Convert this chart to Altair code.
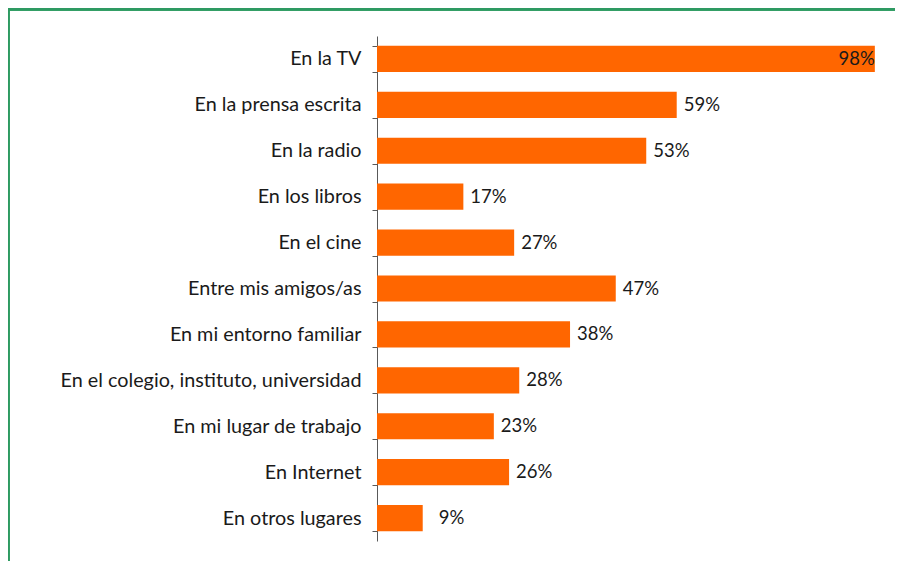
import altair as alt
import pandas as pd

categories = [
    "En la TV",
    "En la prensa escrita",
    "En la radio",
    "En los libros",
    "En el cine",
    "Entre mis amigos/as",
    "En mi entorno familiar",
    "En el colegio, instituto, universidad",
    "En mi lugar de trabajo",
    "En Internet",
    "En otros lugares",
]
values = [98, 59, 53, 17, 27, 47, 38, 28, 23, 26, 9]

df = pd.DataFrame({"cat": categories, "val": values})
df["label"] = df["val"].astype(str) + "%"

FONT = "Lato"
W, H = 508, 505
PAD = {"left": 369, "top": 28, "right": 10, "bottom": 20}

y = alt.Y(
    "cat:N",
    sort=categories,
    title=None,
    scale=alt.Scale(paddingInner=0.43, paddingOuter=0.215),
    axis=alt.Axis(
        tickBand="extent",
        domainColor="#595959",
        tickColor="#595959",
        tickSize=5,
        labelPadding=11,
        labelFont=FONT,
        labelFontSize=19.8,
        labelFontWeight="normal",
        labelColor="#1a1a1a",
        labelLimit=400,
        domainWidth=1,
        tickWidth=1,
    ),
)
x = alt.X("val:Q", scale=alt.Scale(domain=[0, 100]), axis=None)

base = alt.Chart(df)
bars = base.mark_bar(color="#FF6600").encode(x=x, y=y)

txt_kw = dict(font=FONT, fontSize=18.5, color="#1a1a1a", baseline="middle")
labels = base.transform_filter("datum.val < 90 && datum.val >= 10").mark_text(
    align="left", dx=7, **txt_kw
).encode(x=x, y=y, text="label:N")
label_in = base.transform_filter("datum.val >= 90").mark_text(
    align="right", dx=0, **txt_kw
).encode(x=x, y=y, text="label:N")
label_small = base.transform_filter("datum.val < 10").mark_text(
    align="left", dx=16, **txt_kw
).encode(x=x, y=y, text="label:N")

green = "#2e9a62"
border_top = base.mark_rule(color=green, strokeWidth=2.5).encode(
    x=alt.value(-PAD["left"]), x2=alt.value(W + PAD["right"]), y=alt.value(-PAD["top"] + 1)
)
border_left = base.mark_rule(color=green, strokeWidth=2.5).encode(
    x=alt.value(-PAD["left"]), y=alt.value(-PAD["top"]), y2=alt.value(H + PAD["bottom"])
)

chart = (
    alt.layer(bars, labels, label_in, label_small, border_top, border_left)
    .properties(
        width=W,
        height=H,
        padding=PAD,
        autosize=alt.AutoSizeParams(type="none"),
        view=alt.ViewBackground(stroke="transparent", strokeWidth=0),
    )
    .configure_view(stroke="transparent", strokeWidth=0)
    .configure(background="white")
)

chart.save("out.html", embed_options={"renderer": "svg", "actions": False})
